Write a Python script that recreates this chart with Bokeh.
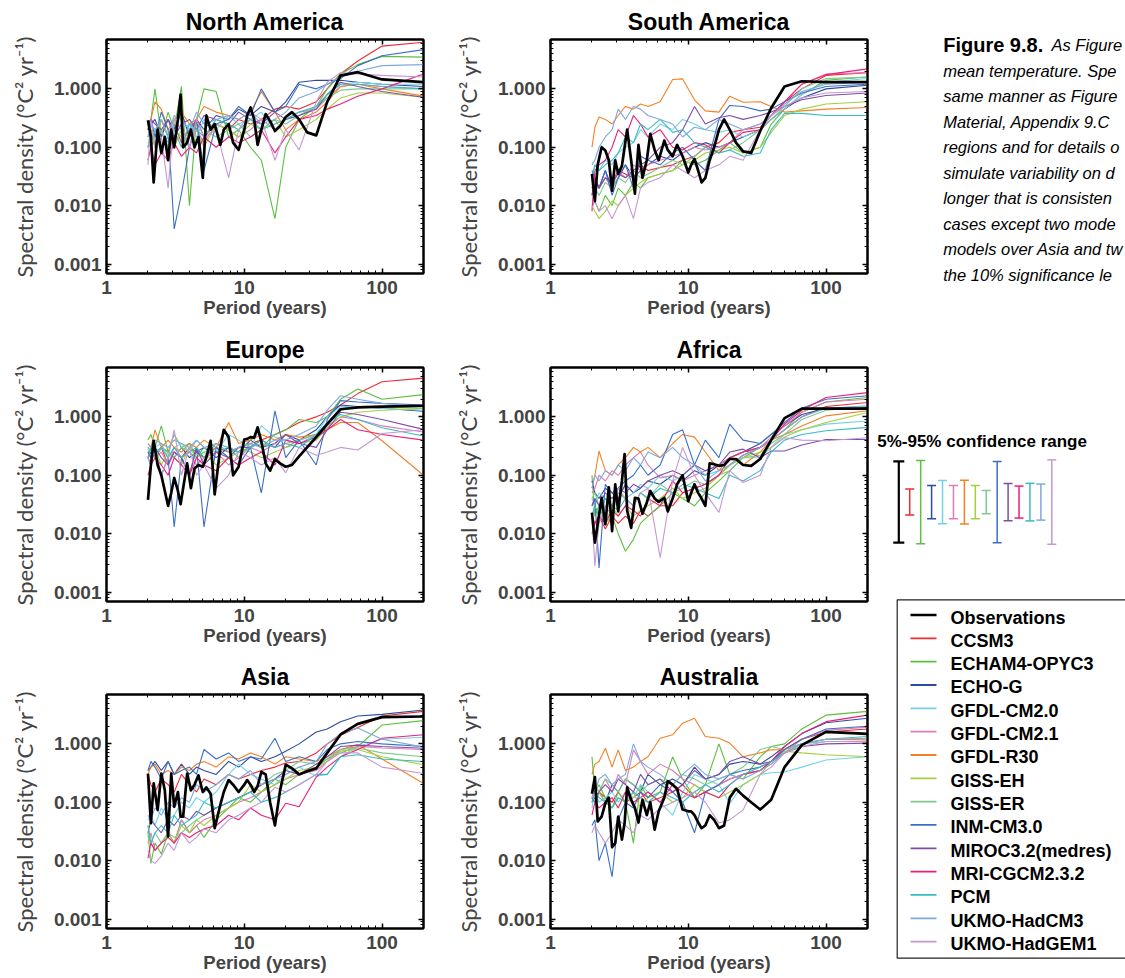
from bokeh.plotting import figure
from bokeh.layouts import row, column
from bokeh.models import (Range1d, FixedTicker, PrintfTickFormatter, LogAxis,
                          CustomJSTickFormatter, LogScale)
from bokeh.core.properties import value
from bokeh.embed import file_html
from bokeh.resources import INLINE

# ---------------- data ----------------
MODELS = ["CCSM3", "ECHAM4-OPYC3", "ECHO-G", "GFDL-CM2.0", "GFDL-CM2.1", "GFDL-R30",
          "GISS-EH", "GISS-ER", "INM-CM3.0", "MIROC3.2(medres)", "MRI-CGCM2.3.2",
          "PCM", "UKMO-HadCM3", "UKMO-HadGEM1"]
MODEL_COLORS = ["#ee2a35", "#5cbf3f", "#2e4a9e", "#74d2e8", "#e07ab8", "#f58025",
                "#a5cf3c", "#7fc98f", "#3b6fc4", "#7d4ea8", "#ec1e79", "#39bcc4",
                "#7ea9df", "#c597d3"]

# periods (years) of the plotted spectral estimates
PERIODS_MODEL = [200, 100, 66.7, 50, 40, 33.3, 25, 20, 16.7, 13.3, 11.1, 9.1, 7.7, 6.25,
                 5.1, 4.5, 4.0, 3.5, 3.1, 2.8, 2.5, 2.25, 2.1, 2.0]
PERIODS_OBS = [200, 100, 66.7, 50, 40, 33.3, 28.6, 25, 22.2, 20, 18.2, 16.7, 15.4, 14.3,
               13.3, 12.5, 11.8, 11.1, 10.5, 10, 9.1, 8.3, 7.7, 7.1, 6.7, 6.1, 5.7, 5.3,
               5.0, 4.65, 4.35, 4.1, 3.85, 3.6, 3.45, 3.3, 3.1, 2.95, 2.8, 2.65, 2.5,
               2.35, 2.2, 2.1, 2.0]

# --- North America
NA_OBS = [1.30, 1.45, 1.93, 1.69, 0.6, 0.16, 0.18, 0.30, 0.40, 0.33, 0.23, 0.19, 0.28, 0.37,
          0.2, 0.11, 0.3, 0.48, 0.35, 0.2, 0.09, 0.12, 0.25, 0.2, 0.11, 0.25, 0.2, 0.35,
          0.03, 0.15, 0.1, 0.2, 0.12, 0.1, 0.8, 0.3, 0.1, 0.2, 0.06, 0.15, 0.08, 0.2,
          0.025, 0.15, 0.29]
NA_CCSM3 = [6.3, 5.4, 3.0, 1.8, 1.0, 0.6, 0.45, 0.5, 0.45, 0.3, 0.25, 0.3, 0.2, 0.25, 0.15, 0.3, 0.2, 0.12, 0.25, 0.15, 0.3, 0.1, 0.2, 0.15]
NA_ECHAM = [3.5, 3.6, 2.6, 1.8, 1.0, 0.5, 0.3, 0.1, 0.006, 0.06, 0.1, 0.2, 0.15, 0.9, 1.0, 0.3, 0.01, 1.1, 0.2, 0.4, 0.15, 1.0, 0.3, 0.2]
NA_ECHOG = [1.1, 1.2, 1.3, 1.4, 1.4, 1.4, 1.3, 0.6, 0.4, 0.5, 0.35, 0.45, 0.3, 0.35, 0.2, 0.3, 0.15, 0.4, 0.2, 0.3, 0.15, 0.3, 0.25, 0.2]
NA_CM20 = [1.2, 1.2, 1.3, 1.2, 0.8, 0.5, 0.35, 0.3, 0.2, 0.4, 0.3, 0.25, 0.35, 0.2, 0.3, 0.15, 0.25, 0.2, 0.3, 0.12, 0.2, 0.15, 0.25, 0.1]
NA_CM21 = [1.0, 1.1, 1.2, 1.1, 0.7, 0.45, 0.4, 0.3, 0.2, 0.3, 0.2, 0.15, 0.2, 0.25, 0.12, 0.2, 0.1, 0.25, 0.15, 0.08, 0.2, 0.12, 0.15, 0.1]
NA_R30 = [0.75, 1.0, 1.2, 1.1, 0.6, 0.4, 0.3, 0.2, 0.4, 0.9, 0.4, 0.3, 0.35, 0.4, 0.5, 0.3, 0.25, 0.4, 0.3, 0.2, 0.45, 0.6, 0.3, 0.25]
NA_EH = [0.72, 0.85, 0.85, 0.7, 0.45, 0.3, 0.2, 0.15, 0.3, 0.2, 0.25, 0.15, 0.2, 0.25, 0.1, 0.2, 0.15, 0.2, 0.1, 0.15, 0.3, 0.1, 0.2, 0.15]
NA_ER = [1.0, 1.0, 1.0, 0.95, 0.7, 0.5, 0.35, 0.25, 0.3, 0.2, 0.15, 0.25, 0.2, 0.15, 0.2, 0.25, 0.1, 0.15, 0.2, 0.1, 0.2, 0.15, 0.1, 0.12]
NA_INM = [4.7, 3.7, 2.5, 1.5, 1.2, 1.0, 1.2, 0.5, 0.4, 1.0, 0.35, 0.5, 0.3, 0.25, 0.04, 0.3, 0.1, 0.016, 0.004, 0.2, 0.4, 0.15, 0.3, 0.25]
NA_MIROC = [0.72, 0.9, 1.1, 1.3, 0.8, 0.45, 0.35, 0.3, 0.4, 0.25, 0.3, 0.4, 0.25, 0.3, 0.35, 0.2, 0.3, 0.25, 0.15, 0.3, 0.2, 0.25, 0.3, 0.2]
NA_MRI = [1.8, 1.0, 0.75, 0.55, 0.45, 0.35, 0.3, 0.15, 0.08, 0.2, 0.15, 0.12, 0.15, 0.1, 0.15, 0.08, 0.1, 0.07, 0.12, 0.06, 0.08, 0.05, 0.1, 0.06]
NA_PCM = [1.0, 1.1, 1.2, 1.2, 0.8, 0.5, 0.4, 0.3, 0.25, 0.2, 0.3, 0.2, 0.25, 0.3, 0.15, 0.2, 0.25, 0.1, 0.2, 0.15, 0.1, 0.2, 0.12, 0.1]
NA_HADCM3 = [2.6, 2.5, 2.0, 1.6, 1.2, 0.9, 0.7, 0.4, 0.3, 0.25, 0.4, 0.3, 0.35, 0.3, 0.25, 0.4, 0.2, 0.3, 0.35, 0.15, 0.3, 0.2, 0.25, 0.15]
NA_HADGEM1 = [1.6, 1.7, 1.8, 1.9, 1.3, 0.6, 0.09, 0.2, 0.06, 0.3, 0.4, 0.2, 0.03, 0.2, 0.15, 0.3, 0.1, 0.2, 0.3, 0.02, 0.15, 0.1, 0.3, 0.05]

# --- South America
SA_OBS = [1.3, 1.3, 1.35, 1.1, 0.47, 0.19, 0.08, 0.085, 0.12, 0.2, 0.3, 0.2, 0.1, 0.06,
          0.03, 0.025, 0.04, 0.063, 0.05, 0.037, 0.07, 0.11, 0.07, 0.09, 0.13, 0.06, 0.09,
          0.17, 0.06, 0.03, 0.11, 0.016, 0.06, 0.2, 0.1, 0.048, 0.035, 0.06, 0.018, 0.06,
          0.088, 0.1, 0.05, 0.012, 0.035]
SA_CCSM3 = [1.9, 1.7, 1.0, 0.6, 0.35, 0.22, 0.2, 0.18, 0.12, 0.1, 0.07, 0.06, 0.05, 0.045, 0.04, 0.05, 0.03, 0.035, 0.04, 0.025, 0.03, 0.02, 0.025, 0.015]
SA_ECHAM = [1.6, 1.4, 0.8, 0.45, 0.25, 0.1, 0.08, 0.12, 0.09, 0.06, 0.05, 0.06, 0.04, 0.035, 0.03, 0.02, 0.025, 0.015, 0.02, 0.01, 0.015, 0.008, 0.012, 0.01]
SA_ECHOG = [1.15, 1.0, 0.7, 0.45, 0.3, 0.2, 0.15, 0.12, 0.1, 0.12, 0.1, 0.08, 0.06, 0.07, 0.05, 0.04, 0.03, 0.05, 0.03, 0.02, 0.04, 0.02, 0.03, 0.02]
SA_CM20 = [1.5, 1.3, 0.8, 0.45, 0.3, 0.2, 0.15, 0.2, 0.18, 0.2, 0.25, 0.3, 0.2, 0.25, 0.15, 0.2, 0.12, 0.1, 0.08, 0.05, 0.06, 0.04, 0.05, 0.03]
SA_CM21 = [1.9, 1.8, 1.2, 0.6, 0.35, 0.25, 0.2, 0.12, 0.1, 0.09, 0.1, 0.08, 0.07, 0.06, 0.05, 0.04, 0.05, 0.03, 0.04, 0.02, 0.03, 0.02, 0.025, 0.02]
SA_R30 = [0.48, 0.45, 0.42, 0.4, 0.5, 0.6, 0.59, 0.75, 0.4, 0.42, 0.65, 1.48, 1.45, 0.6, 0.5, 0.55, 0.45, 0.5, 0.35, 0.25, 0.3, 0.33, 0.22, 0.1]
SA_EH = [0.6, 0.55, 0.45, 0.35, 0.18, 0.1, 0.08, 0.1, 0.09, 0.08, 0.06, 0.05, 0.04, 0.035, 0.03, 0.025, 0.02, 0.015, 0.01, 0.012, 0.008, 0.006, 0.008, 0.01]
SA_ER = [1.6, 1.5, 1.0, 0.5, 0.3, 0.2, 0.12, 0.09, 0.08, 0.1, 0.07, 0.05, 0.06, 0.045, 0.035, 0.03, 0.04, 0.025, 0.03, 0.02, 0.025, 0.015, 0.02, 0.02]
SA_INM = [1.2, 1.1, 0.85, 0.6, 0.45, 0.42, 0.5, 0.52, 0.3, 0.04, 0.06, 0.1, 0.08, 0.05, 0.06, 0.07, 0.02, 0.05, 0.03, 0.015, 0.04, 0.02, 0.03, 0.04]
SA_MIROC = [0.85, 0.77, 0.65, 0.5, 0.4, 0.35, 0.3, 0.35, 0.32, 0.25, 0.5, 0.2, 0.12, 0.1, 0.06, 0.05, 0.04, 0.03, 0.035, 0.025, 0.03, 0.02, 0.03, 0.015]
SA_MRI = [2.2, 1.75, 1.2, 0.6, 0.35, 0.2, 0.18, 0.12, 0.08, 0.11, 0.12, 0.09, 0.1, 0.2, 0.15, 0.25, 0.35, 0.15, 0.2, 0.1, 0.06, 0.05, 0.04, 0.008]
SA_PCM = [0.35, 0.35, 0.38, 0.38, 0.2, 0.08, 0.07, 0.09, 0.08, 0.1, 0.12, 0.2, 0.18, 0.3, 0.2, 0.25, 0.12, 0.15, 0.08, 0.06, 0.05, 0.04, 0.05, 0.03]
SA_HADCM3 = [1.3, 1.2, 0.9, 0.55, 0.35, 0.25, 0.2, 0.25, 0.3, 0.2, 0.22, 0.15, 0.25, 0.3, 0.35, 0.45, 0.5, 0.3, 0.45, 0.2, 0.15, 0.1, 0.06, 0.05]
SA_HADGEM1 = [0.9, 0.85, 0.7, 0.5, 0.35, 0.2, 0.06, 0.07, 0.05, 0.04, 0.03, 0.04, 0.05, 0.03, 0.025, 0.02, 0.006, 0.015, 0.01, 0.006, 0.01, 0.008, 0.012, 0.009]

# --- Europe
EU_OBS = [1.55, 1.5, 1.45, 1.35, 0.75, 0.45, 0.3, 0.21, 0.15, 0.14, 0.16, 0.19, 0.12, 0.16,
          0.38, 0.66, 0.44, 0.45, 0.42, 0.41, 0.14, 0.1, 0.45, 0.6, 0.3, 0.047, 0.39, 0.2,
          0.14, 0.15, 0.13, 0.06, 0.16, 0.06, 0.032, 0.054, 0.09, 0.05, 0.03, 0.054, 0.1,
          0.15, 0.39, 0.15, 0.038]
EU_CCSM3 = [4.6, 4.0, 2.5, 1.6, 1.2, 1.0, 0.8, 0.6, 0.5, 0.4, 0.35, 0.3, 0.25, 0.3, 0.2, 0.25, 0.3, 0.2, 0.25, 0.15, 0.3, 0.2, 0.25, 0.3]
EU_ECHAM = [2.4, 2.0, 3.0, 2.0, 1.0, 0.8, 0.9, 0.6, 0.5, 0.3, 0.35, 0.2, 0.3, 0.25, 0.3, 0.2, 0.35, 0.3, 0.5, 0.25, 0.7, 0.3, 0.5, 0.4]
EU_ECHOG = [1.25, 1.4, 1.5, 1.6, 1.0, 0.6, 0.4, 0.5, 0.35, 0.3, 0.4, 0.25, 0.3, 0.2, 0.3, 0.25, 0.2, 0.3, 0.2, 0.25, 0.3, 0.2, 0.25, 0.2]
EU_CM20 = [1.3, 1.4, 1.5, 1.5, 1.0, 0.5, 0.35, 0.4, 0.45, 0.7, 0.3, 0.4, 0.5, 0.25, 0.3, 0.4, 0.25, 0.35, 0.3, 0.2, 0.35, 0.3, 0.25, 0.3]
EU_CM21 = [0.55, 0.7, 0.9, 1.0, 0.7, 0.5, 0.4, 0.3, 0.35, 0.25, 0.3, 0.2, 0.15, 0.25, 0.2, 0.15, 0.25, 0.2, 0.3, 0.15, 0.25, 0.2, 0.3, 0.2]
EU_R30 = [0.1, 0.39, 0.8, 0.8, 0.6, 0.5, 0.45, 0.5, 0.4, 0.5, 0.4, 0.35, 0.8, 0.3, 0.4, 0.3, 0.35, 0.25, 0.3, 0.4, 0.3, 0.6, 0.3, 0.35]
EU_EH = [1.4, 1.3, 1.2, 1.0, 0.65, 0.4, 0.35, 0.3, 0.25, 0.2, 0.25, 0.3, 0.2, 0.15, 0.25, 0.2, 0.3, 0.15, 0.2, 0.25, 0.15, 0.3, 0.2, 0.25]
EU_ER = [1.4, 1.5, 1.5, 1.3, 0.8, 0.5, 0.4, 0.35, 0.3, 0.35, 0.3, 0.25, 0.2, 0.3, 0.25, 0.2, 0.25, 0.3, 0.2, 0.25, 0.3, 0.2, 0.3, 0.25]
EU_INM = [1.6, 1.7, 1.8, 1.9, 0.9, 0.15, 0.4, 0.2, 1.27, 0.05, 0.3, 0.15, 0.2, 0.3, 0.013, 0.3, 0.1, 0.2, 0.013, 0.2, 0.1, 0.3, 0.15, 0.2]
EU_MIROC = [0.61, 0.9, 1.1, 1.2, 0.6, 0.3, 0.35, 0.5, 0.3, 0.4, 0.3, 0.3, 0.2, 0.25, 0.15, 0.3, 0.1, 0.2, 0.25, 0.15, 0.2, 0.3, 0.2, 0.25]
EU_MRI = [0.4, 0.5, 0.6, 0.9, 0.6, 0.45, 0.35, 0.4, 0.15, 0.25, 0.2, 0.15, 0.2, 0.12, 0.15, 0.2, 0.1, 0.15, 0.2, 0.1, 0.15, 0.2, 0.15, 0.1]
EU_PCM = [0.47, 0.65, 0.9, 1.1, 0.8, 0.5, 0.3, 0.35, 0.3, 0.4, 0.3, 0.25, 0.3, 0.35, 0.2, 0.3, 0.25, 0.2, 0.3, 0.2, 0.3, 0.25, 0.3, 0.2]
EU_HADCM3 = [1.5, 1.7, 2.0, 2.3, 1.3, 0.7, 0.5, 0.4, 0.4, 0.3, 0.35, 0.3, 0.25, 0.35, 0.3, 0.4, 0.3, 0.35, 0.4, 0.3, 0.35, 0.4, 0.3, 0.35]
EU_HADGEM1 = [0.6, 0.52, 0.27, 0.3, 0.25, 0.22, 0.3, 0.11, 0.2, 0.15, 0.2, 0.25, 0.1, 0.06, 0.15, 0.1, 0.3, 0.1, 0.6, 0.2, 0.1, 0.3, 0.15, 0.2]

# --- Africa
AF_OBS = [1.38, 1.38, 1.38, 0.95, 0.4, 0.19, 0.145, 0.15, 0.19, 0.19, 0.15, 0.145, 0.155,
          0.16, 0.03, 0.04, 0.05, 0.07, 0.05, 0.036, 0.1, 0.07, 0.04, 0.024, 0.041, 0.035,
          0.04, 0.054, 0.034, 0.022, 0.04, 0.041, 0.0126, 0.025, 0.23, 0.08, 0.024, 0.07,
          0.011, 0.062, 0.0145, 0.041, 0.0145, 0.007, 0.023]
AF_CCSM3 = [1.76, 1.5, 1.0, 0.6, 0.4, 0.3, 0.22, 0.15, 0.1, 0.07, 0.06, 0.05, 0.03, 0.03, 0.02, 0.025, 0.015, 0.02, 0.015, 0.02, 0.012, 0.02, 0.015, 0.02]
AF_ECHAM = [2.15, 1.8, 1.2, 0.6, 0.4, 0.3, 0.2, 0.12, 0.08, 0.05, 0.03, 0.04, 0.05, 0.03, 0.02, 0.015, 0.008, 0.005, 0.01, 0.02, 0.015, 0.03, 0.02, 0.1]
AF_ECHOG = [1.45, 1.4, 1.1, 0.7, 0.5, 0.35, 0.25, 0.2, 0.15, 0.1, 0.12, 0.08, 0.1, 0.07, 0.08, 0.06, 0.05, 0.07, 0.04, 0.05, 0.06, 0.04, 0.05, 0.08]
AF_CM20 = [0.85, 0.75, 0.6, 0.5, 0.3, 0.2, 0.2, 0.15, 0.12, 0.1, 0.15, 0.1, 0.08, 0.1, 0.06, 0.07, 0.05, 0.04, 0.05, 0.03, 0.04, 0.05, 0.03, 0.04]
AF_CM21 = [2.0, 1.8, 1.2, 0.7, 0.45, 0.3, 0.25, 0.2, 0.15, 0.12, 0.1, 0.08, 0.1, 0.09, 0.15, 0.25, 0.2, 0.15, 0.1, 0.12, 0.08, 0.1, 0.06, 0.05]
AF_R30 = [1.27, 1.04, 0.7, 0.5, 0.4, 0.25, 0.15, 0.2, 0.12, 0.25, 0.45, 0.5, 0.35, 0.2, 0.3, 0.25, 0.3, 0.2, 0.15, 0.1, 0.12, 0.26, 0.1, 0.06]
AF_EH = [1.19, 0.8, 0.6, 0.45, 0.3, 0.25, 0.2, 0.15, 0.1, 0.06, 0.05, 0.04, 0.06, 0.04, 0.03, 0.025, 0.02, 0.03, 0.02, 0.03, 0.015, 0.02, 0.03, 0.02]
AF_ER = [1.5, 1.3, 0.9, 0.5, 0.35, 0.22, 0.2, 0.12, 0.1, 0.07, 0.08, 0.06, 0.05, 0.07, 0.04, 0.05, 0.03, 0.04, 0.05, 0.03, 0.04, 0.03, 0.05, 0.04]
AF_INM = [2.3, 2.0, 1.4, 0.8, 0.5, 0.35, 0.4, 0.75, 0.2, 0.4, 0.15, 0.6, 0.5, 0.15, 0.1, 0.15, 0.1, 0.08, 0.06, 0.05, 0.07, 0.0026, 0.04, 0.03]
AF_MIROC = [0.41, 0.41, 0.33, 0.26, 0.26, 0.2, 0.28, 0.25, 0.15, 0.12, 0.15, 0.1, 0.12, 0.1, 0.08, 0.06, 0.07, 0.05, 0.06, 0.04, 0.05, 0.03, 0.04, 0.03]
AF_MRI = [2.6, 2.15, 1.3, 0.75, 0.4, 0.3, 0.25, 0.2, 0.1, 0.07, 0.06, 0.05, 0.08, 0.03, 0.04, 0.02, 0.025, 0.03, 0.02, 0.025, 0.015, 0.02, 0.015, 0.01]
AF_PCM = [0.66, 0.58, 0.5, 0.4, 0.25, 0.12, 0.08, 0.1, 0.04, 0.05, 0.06, 0.07, 0.05, 0.06, 0.04, 0.05, 0.03, 0.04, 0.025, 0.03, 0.04, 0.02, 0.03, 0.02]
AF_HADCM3 = [1.55, 1.4, 1.0, 0.6, 0.4, 0.3, 0.22, 0.15, 0.12, 0.08, 0.15, 0.2, 0.3, 0.2, 0.25, 0.15, 0.2, 0.12, 0.15, 0.1, 0.12, 0.08, 0.1, 0.06]
AF_HADGEM1 = [0.44, 0.39, 0.4, 0.44, 0.3, 0.1, 0.075, 0.12, 0.023, 0.05, 0.1, 0.3, 0.08, 0.0039, 0.06, 0.05, 0.03, 0.04, 0.06, 0.02, 0.03, 0.015, 0.0028, 0.02]

# --- Asia
AS_OBS = [2.94, 2.87, 2.2, 1.45, 0.7, 0.38, 0.34, 0.3, 0.38, 0.44, 0.16, 0.04, 0.1, 0.3,
          0.33, 0.19, 0.15, 0.2, 0.24, 0.2, 0.15, 0.2, 0.24, 0.15, 0.09, 0.036, 0.14, 0.18,
          0.15, 0.29, 0.2, 0.16, 0.31, 0.057, 0.057, 0.15, 0.084, 0.31, 0.026, 0.16, 0.31,
          0.074, 0.21, 0.044, 0.31]
AS_CCSM3 = [3.6, 3.0, 1.9, 1.4, 1.0, 0.7, 0.5, 0.47, 0.4, 0.35, 0.3, 0.25, 0.3, 0.2, 0.25, 0.15, 0.2, 0.3, 0.15, 0.2, 0.25, 0.15, 0.2, 0.3]
AS_ECHAM = [2.5, 2.1, 0.9, 0.7, 0.55, 0.4, 0.3, 0.2, 0.25, 0.15, 0.1, 0.12, 0.08, 0.05, 0.025, 0.04, 0.03, 0.05, 0.02, 0.03, 0.013, 0.02, 0.009, 0.03]
AS_ECHOG = [3.8, 3.2, 3.0, 2.4, 1.8, 1.6, 1.0, 0.75, 0.6, 0.5, 0.6, 0.4, 0.5, 0.3, 0.35, 0.4, 0.3, 0.45, 0.3, 0.5, 0.35, 0.5, 0.4, 0.35]
AS_CM20 = [1.3, 1.2, 0.9, 0.6, 0.3, 0.28, 0.4, 0.3, 0.2, 0.25, 0.3, 0.45, 0.3, 0.15, 0.1, 0.12, 0.08, 0.1, 0.06, 0.05, 0.08, 0.04, 0.06, 0.05]
AS_CM21 = [0.8, 0.85, 0.9, 0.8, 0.5, 0.35, 0.3, 0.25, 0.2, 0.15, 0.12, 0.1, 0.08, 0.06, 0.05, 0.04, 0.03, 0.05, 0.02, 0.03, 0.02, 0.015, 0.03, 0.02]
AS_R30 = [0.21, 0.55, 0.97, 0.8, 0.6, 0.5, 0.55, 0.6, 0.45, 0.6, 0.7, 0.55, 0.6, 0.4, 0.5, 0.45, 0.35, 0.4, 0.3, 0.35, 0.3, 0.45, 0.4, 0.3]
AS_EH = [0.44, 0.6, 0.8, 0.75, 0.5, 0.4, 0.35, 0.25, 0.2, 0.15, 0.2, 0.1, 0.08, 0.06, 0.04, 0.05, 0.03, 0.04, 0.02, 0.03, 0.02, 0.015, 0.02, 0.025]
AS_ER = [0.6, 0.7, 0.85, 0.8, 0.55, 0.45, 0.5, 0.35, 0.3, 0.2, 0.15, 0.12, 0.1, 0.08, 0.06, 0.05, 0.04, 0.03, 0.025, 0.03, 0.02, 0.03, 0.02, 0.04]
AS_INM = [0.9, 1.0, 1.1, 1.0, 0.8, 0.5, 0.6, 0.5, 1.25, 0.55, 0.6, 0.5, 0.7, 0.55, 0.8, 0.3, 0.4, 0.35, 0.3, 0.5, 0.25, 0.4, 0.5, 0.35]
AS_MIROC = [0.84, 0.9, 0.95, 0.9, 0.6, 0.45, 0.3, 0.35, 0.25, 0.2, 0.15, 0.12, 0.1, 0.08, 0.06, 0.07, 0.05, 0.06, 0.04, 0.05, 0.03, 0.04, 0.05, 0.03]
AS_MRI = [1.43, 1.25, 0.8, 0.6, 0.4, 0.27, 0.084, 0.096, 0.05, 0.06, 0.08, 0.05, 0.06, 0.04, 0.035, 0.03, 0.025, 0.03, 0.02, 0.025, 0.02, 0.015, 0.02, 0.011]
AS_PCM = [0.5, 0.55, 0.65, 0.6, 0.3, 0.3, 0.2, 0.15, 0.12, 0.1, 0.15, 0.12, 0.1, 0.08, 0.1, 0.06, 0.05, 0.04, 0.06, 0.03, 0.04, 0.03, 0.02, 0.04]
AS_HADCM3 = [0.88, 1.2, 1.86, 1.5, 1.0, 0.5, 0.4, 0.3, 0.25, 0.2, 0.35, 0.25, 0.3, 0.2, 0.15, 0.2, 0.1, 0.12, 0.08, 0.1, 0.06, 0.08, 0.05, 0.06]
AS_HADGEM1 = [0.31, 0.4, 0.7, 0.7, 0.5, 0.3, 0.2, 0.15, 0.18, 0.1, 0.08, 0.06, 0.05, 0.03, 0.035, 0.025, 0.02, 0.03, 0.015, 0.02, 0.012, 0.009, 0.01, 0.015]

# --- Australia
AU_OBS = [1.48, 1.6, 0.95, 0.4, 0.11, 0.075, 0.1, 0.13, 0.17, 0.12, 0.04, 0.036, 0.05,
          0.06, 0.04, 0.036, 0.045, 0.06, 0.07, 0.07, 0.075, 0.17, 0.2, 0.23, 0.12, 0.07,
          0.034, 0.1, 0.06, 0.11, 0.045, 0.08, 0.11, 0.18, 0.044, 0.023, 0.057, 0.02,
          0.017, 0.12, 0.096, 0.057, 0.047, 0.27, 0.14]
AU_CCSM3 = [1.8, 1.6, 1.2, 0.8, 0.5, 0.35, 0.3, 0.25, 0.2, 0.15, 0.12, 0.2, 0.15, 0.12, 0.1, 0.15, 0.12, 0.1, 0.15, 0.1, 0.12, 0.15, 0.1, 0.12]
AU_ECHAM = [3.6, 3.1, 1.8, 1.0, 0.9, 0.6, 0.25, 0.3, 1.0, 0.2, 0.12, 0.25, 0.6, 0.15, 0.12, 0.2, 0.02, 0.1, 0.15, 0.08, 0.12, 0.2, 0.15, 0.6]
AU_ECHOG = [2.75, 2.3, 1.5, 0.9, 0.6, 0.45, 0.5, 0.45, 0.3, 0.25, 0.4, 0.2, 0.25, 0.2, 0.3, 0.15, 0.2, 0.25, 0.15, 0.2, 0.1, 0.15, 0.12, 0.1]
AU_CM20 = [0.6, 0.53, 0.4, 0.33, 0.32, 0.3, 0.2, 0.096, 0.2, 0.25, 0.3, 0.15, 0.06, 0.1, 0.15, 0.2, 0.12, 0.15, 0.1, 0.15, 0.12, 0.1, 0.15, 0.08]
AU_CM21 = [1.93, 1.7, 1.2, 0.7, 0.45, 0.35, 0.3, 0.25, 0.2, 0.15, 0.2, 0.25, 0.35, 0.45, 0.3, 0.5, 0.79, 0.2, 0.3, 0.15, 0.25, 0.15, 0.2, 0.12]
AU_R30 = [1.17, 1.2, 1.0, 0.8, 0.79, 0.7, 0.6, 1.03, 1.25, 1.34, 2.75, 2.26, 1.43, 1.25, 0.6, 0.5, 0.4, 0.35, 0.79, 0.4, 0.84, 0.5, 0.45, 0.3]
AU_EH = [0.6, 0.65, 0.7, 0.75, 0.5, 0.3, 0.2, 0.15, 0.12, 0.15, 0.2, 0.12, 0.1, 0.15, 0.12, 0.08, 0.15, 0.1, 0.12, 0.08, 0.1, 0.15, 0.1, 0.12]
AU_ER = [1.1, 1.1, 1.0, 0.8, 0.9, 0.8, 0.4, 0.3, 0.25, 0.2, 0.25, 0.3, 0.2, 0.25, 0.2, 0.15, 0.2, 0.25, 0.15, 0.2, 0.25, 0.15, 0.2, 0.15]
AU_INM = [2.0, 1.8, 1.2, 0.8, 0.5, 0.4, 0.35, 0.3, 0.2, 0.15, 0.03, 0.1, 0.15, 0.2, 0.12, 0.15, 0.08, 0.1, 0.05, 0.0053, 0.02, 0.01, 0.05, 0.04]
AU_MIROC = [1.03, 1.0, 0.9, 0.7, 0.5, 0.45, 0.6, 0.5, 0.3, 0.25, 0.35, 0.2, 0.15, 0.25, 0.2, 0.3, 0.15, 0.2, 0.25, 0.15, 0.2, 0.15, 0.1, 0.12]
AU_MRI = [3.1, 2.4, 1.5, 0.9, 0.5, 0.35, 0.3, 0.2, 0.12, 0.15, 0.12, 0.15, 0.2, 0.1, 0.15, 0.12, 0.1, 0.15, 0.08, 0.12, 0.1, 0.08, 0.1, 0.06]
AU_PCM = [1.34, 1.2, 1.0, 0.7, 0.5, 0.4, 0.3, 0.2, 0.15, 0.2, 0.15, 0.1, 0.12, 0.15, 0.1, 0.12, 0.15, 0.1, 0.12, 0.08, 0.1, 0.12, 0.15, 0.1]
AU_HADCM3 = [1.25, 1.2, 1.0, 0.7, 0.45, 0.35, 0.25, 0.3, 0.25, 0.3, 0.45, 0.3, 0.2, 0.3, 0.4, 0.5, 1.0, 0.3, 0.25, 0.2, 0.3, 0.25, 0.15, 0.2]
AU_HADGEM1 = [1.1, 1.1, 0.9, 0.7, 0.4, 0.3, 0.074, 0.05, 0.044, 0.1, 0.15, 0.12, 0.1, 0.08, 0.05, 0.06, 0.03, 0.04, 0.05, 0.03, 0.02, 0.03, 0.04, 0.03]

# 5%-95% confidence ranges (multiplicative factors about a common centre), obs first
CONF_NAMES = ["Observations"] + MODELS
CONF_LO = [0.201, 0.598, 0.193, 0.518, 0.426, 0.518, 0.422, 0.518, 0.631, 0.201, 0.479, 0.532, 0.476, 0.491, 0.189]
CONF_HI = [4.98, 1.67, 5.18, 1.93, 2.35, 1.93, 2.37, 1.93, 1.58, 4.98, 2.09, 1.88, 2.10, 2.04, 5.30]

X_MAJOR = [1, 10, 100]
X_MINOR = [2, 3, 4, 5, 6, 7, 8, 9, 20, 30, 40, 50, 60, 70, 80, 90, 200]
Y_MAJOR = [0.001, 0.01, 0.1, 1.0]
Y_MINOR = [0.0007, 0.0008, 0.0009, 0.002, 0.003, 0.004, 0.005, 0.006, 0.007, 0.008, 0.009,
           0.02, 0.03, 0.04, 0.05, 0.06, 0.07, 0.08, 0.09,
           0.2, 0.3, 0.4, 0.5, 0.6, 0.7, 0.8, 0.9, 2, 3, 4, 5, 6, 7]

# caption text as far as it is visible at the right edge of the figure
CAPTION_BOLD = "Figure 9.8."
CAPTION_LINES = ["As Figure",
                 "mean temperature. Spe",
                 "same manner as Figure",
                 "Material, Appendix 9.C",
                 "regions and for details o",
                 "simulate variability on d",
                 "longer that is consisten",
                 "cases except two mode",
                 "models over Asia and tw",
                 "the 10% significance le"]

REGIONS = {
    "North America": (NA_OBS, [NA_CCSM3, NA_ECHAM, NA_ECHOG, NA_CM20, NA_CM21, NA_R30, NA_EH, NA_ER, NA_INM, NA_MIROC, NA_MRI, NA_PCM, NA_HADCM3, NA_HADGEM1]),
    "South America": (SA_OBS, [SA_CCSM3, SA_ECHAM, SA_ECHOG, SA_CM20, SA_CM21, SA_R30, SA_EH, SA_ER, SA_INM, SA_MIROC, SA_MRI, SA_PCM, SA_HADCM3, SA_HADGEM1]),
    "Europe": (EU_OBS, [EU_CCSM3, EU_ECHAM, EU_ECHOG, EU_CM20, EU_CM21, EU_R30, EU_EH, EU_ER, EU_INM, EU_MIROC, EU_MRI, EU_PCM, EU_HADCM3, EU_HADGEM1]),
    "Africa": (AF_OBS, [AF_CCSM3, AF_ECHAM, AF_ECHOG, AF_CM20, AF_CM21, AF_R30, AF_EH, AF_ER, AF_INM, AF_MIROC, AF_MRI, AF_PCM, AF_HADCM3, AF_HADGEM1]),
    "Asia": (AS_OBS, [AS_CCSM3, AS_ECHAM, AS_ECHOG, AS_CM20, AS_CM21, AS_R30, AS_EH, AS_ER, AS_INM, AS_MIROC, AS_MRI, AS_PCM, AS_HADCM3, AS_HADGEM1]),
    "Australia": (AU_OBS, [AU_CCSM3, AU_ECHAM, AU_ECHOG, AU_CM20, AU_CM21, AU_R30, AU_EH, AU_ER, AU_INM, AU_MIROC, AU_MRI, AU_PCM, AU_HADCM3, AU_HADGEM1]),
}

HELV = "Liberation Sans"


def style_axis(ax, ticker):
    ax.ticker = ticker
    ax.major_tick_in = 5
    ax.major_tick_out = 0
    ax.minor_tick_in = 3
    ax.minor_tick_out = 0
    ax.axis_line_width = 2
    ax.axis_line_color = "black"
    ax.major_tick_line_width = 1.5
    ax.minor_tick_line_width = 1
    ax.major_tick_line_color = "black"
    ax.minor_tick_line_color = "black"


def panel(title, border_top, border_bottom, border_right):
    obs, models = REGIONS[title]
    p = figure(x_axis_type="log", y_axis_type="log",
               x_range=Range1d(1, 200), y_range=Range1d(0.00069, 7.0),
               frame_width=317, frame_height=234,
               min_border_left=106, min_border_right=border_right,
               min_border_top=border_top, min_border_bottom=border_bottom,
               output_backend="svg", toolbar_location=None, title=title)
    p.title.align = "center"
    p.title.text_font = HELV
    p.title.text_font_style = "bold"
    p.title.text_font_size = "23px"
    p.title.text_color = "black"
    p.grid.visible = False
    p.outline_line_color = "black"
    p.outline_line_width = 2
    p.background_fill_color = "white"
    p.border_fill_color = "white"

    xt = FixedTicker(ticks=X_MAJOR, minor_ticks=X_MINOR)
    yt = FixedTicker(ticks=Y_MAJOR, minor_ticks=Y_MINOR)

    xa = p.xaxis[0]
    style_axis(xa, xt)
    xa.formatter = PrintfTickFormatter(format="%d")
    xa.major_label_text_font = HELV
    xa.major_label_text_font_style = "bold"
    xa.major_label_text_font_size = "19px"
    xa.major_label_standoff = 7
    xa.axis_label = "Period (years)"
    xa.axis_label_text_font = HELV
    xa.axis_label_text_font_style = "bold"
    xa.axis_label_text_font_size = "18.5px"
    xa.axis_label_standoff = 0

    ya = p.yaxis[0]
    style_axis(ya, yt)
    ya.formatter = PrintfTickFormatter(format="%.3f")
    ya.major_label_text_font = HELV
    ya.major_label_text_font_style = "bold"
    ya.major_label_text_font_size = "19px"
    ya.major_label_standoff = 5
    ya.axis_label = "Spectral density (°C² yr⁻¹)"
    ya.axis_label_text_font = "Lato"
    ya.axis_label_text_font_style = "normal"
    ya.axis_label_text_font_size = "22px"
    ya.axis_label_standoff = 13

    top = LogAxis(formatter=CustomJSTickFormatter(code="return ''"), major_label_standoff=0)
    style_axis(top, FixedTicker(ticks=X_MAJOR, minor_ticks=X_MINOR))
    p.add_layout(top, "above")
    right = LogAxis(formatter=CustomJSTickFormatter(code="return ''"), major_label_standoff=0)
    style_axis(right, FixedTicker(ticks=Y_MAJOR, minor_ticks=Y_MINOR))
    p.add_layout(right, "right")

    for vals, col in zip(models, MODEL_COLORS):
        n = min(len(vals), len(PERIODS_MODEL))
        p.line(PERIODS_MODEL[:n], vals[:n], line_color=col, line_width=1.1)
    n = min(len(obs), len(PERIODS_OBS))
    p.line(PERIODS_OBS[:n], obs[:n], line_color="black", line_width=2.7, line_join="round")
    return p


p_na = panel("North America", 39, 54, 21)
p_eu = panel("Europe", 40, 54, 21)
p_as = panel("Asia", 39, 50, 21)
p_sa = panel("South America", 39, 54, 3)
p_af = panel("Africa", 40, 54, 3)
p_au = panel("Australia", 39, 50, 3)

# ---------- side panel: caption, confidence ranges, legend ----------
SW, SH = 255, 978
s = figure(x_range=Range1d(0, SW), y_range=Range1d(SH, 0), title=None,
           frame_width=SW, frame_height=SH, min_border=0,
           x_axis_location=None, y_axis_location=None,
           output_backend="svg", toolbar_location=None)
s.grid.visible = False
s.outline_line_color = None
s.background_fill_color = "white"
s.border_fill_color = "white"

TEXT_DY = -6  # baseline correction for text drawn in this panel

# caption
cap_x = 72.7
cap_base = 50.7 + TEXT_DY
cap_step = 25.5
s.text(x=[cap_x], y=[cap_base], text=[CAPTION_BOLD], text_font=value(HELV),
       text_font_style="bold", text_font_size="20px", text_baseline="alphabetic",
       text_align="left", text_color="black")
cap_xs = [181.0] + [cap_x] * (len(CAPTION_LINES) - 1)
cap_ys = [cap_base + i * cap_step for i in range(len(CAPTION_LINES))]
s.text(x=cap_xs, y=cap_ys, text=CAPTION_LINES, text_font=value(HELV),
       text_font_style="italic", text_font_size="16.5px", text_baseline="alphabetic",
       text_align="left", text_color="black")

# confidence ranges
s.text(x=[6.7], y=[446.5 + TEXT_DY], text=["5%-95% confidence range"], text_font=value(HELV),
       text_font_style="bold", text_font_size="17px", text_baseline="alphabetic",
       text_align="left", text_color="black")
bar_step = 10.93
s.extra_x_ranges = {"bx": Range1d(-28.3 / bar_step, (SW - 28.3) / bar_step)}
s.extra_y_ranges = {"by": Range1d(10 ** (-(SH - 501.6) / 58.3), 10 ** (501.6 / 58.3))}
s.extra_y_scales = {"by": LogScale()}
bar_colors = ["black"] + MODEL_COLORS
bx = list(range(len(CONF_LO)))
bw = [2.2] + [1.5] * (len(CONF_LO) - 1)
bs = [11] + [9] * (len(CONF_LO) - 1)
s.segment(x0=bx, y0=CONF_LO, x1=bx, y1=CONF_HI, line_color=bar_colors, line_width=bw,
          x_range_name="bx", y_range_name="by")
s.scatter(x=bx + bx, y=CONF_LO + CONF_HI, marker="dash", size=bs + bs,
          line_color=bar_colors + bar_colors, line_width=bw + bw,
          x_range_name="bx", y_range_name="by")

# legend
leg_names = ["Observations"] + MODELS
leg_colors = ["black"] + MODEL_COLORS
row0 = 614.5
row_step = 23.33
ys = [row0 + i * row_step for i in range(len(leg_names))]
s.quad(left=[26.7], right=[SW + 10], top=[599.3], bottom=[957.7], fill_color=None,
       line_color="#222222", line_width=1.2)
s.segment(x0=[40] * len(ys), y0=ys, x1=[66] * len(ys), y1=ys, line_color=leg_colors,
          line_width=[2.4] + [1.8] * (len(ys) - 1))
s.text(x=[80] * len(ys), y=[y + 8.5 + TEXT_DY for y in ys], text=leg_names, text_font=value(HELV),
       text_font_style="bold", text_font_size="18px", text_baseline="alphabetic",
       text_align="left", text_color="black")

layout = row(column(p_na, p_eu, p_as), column(p_sa, p_af, p_au), s)
open("out.html", "w").write(file_html(layout, INLINE))
